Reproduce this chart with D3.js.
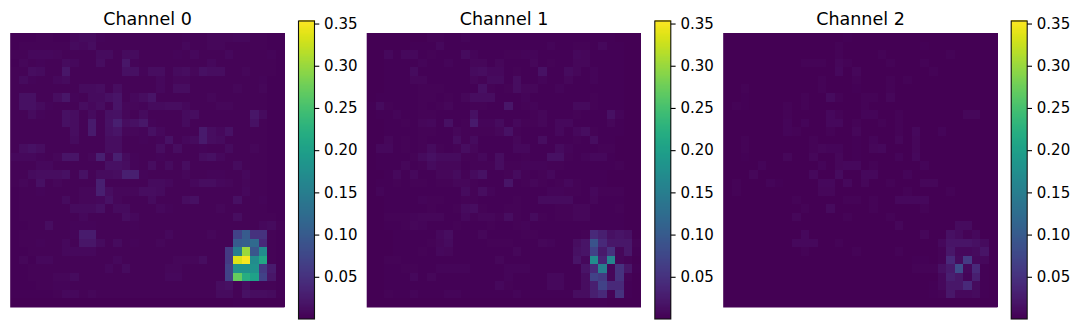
<!DOCTYPE html>
<html>
<head>
<meta charset="utf-8">
<script src="https://d3js.org/d3.v7.min.js"></script>
<style>
  html, body { margin: 0; padding: 0; background: #fff; }
  svg { display: block; }
  text { font-family: "DejaVu Sans", sans-serif; fill: #000; }
</style>
</head>
<body>
<div id="graph"></div>
<script>
// data: cell values, in thousandths
var channel0 = [
  [2,2,2,3,3,2,2,8, 10,10,5,4,3,3,4,3, 3,3,3,3,5,3,3,6, 6,6,8,8,4,3,2,2],
  [2,3,3,3,3,3,3,10, 8,12,4,4,4,3,3,3, 3,3,3,3,8,3,3,6, 6,4,4,4,3,3,2,2],
  [3,3,8,8,8,6,3,4, 4,4,10,10,4,10,10,4, 4,3,3,5,4,7,3,4, 4,8,4,3,3,3,5,2],
  [2,6,3,5,4,3,10,8, 4,4,12,4,3,20,5,3, 3,3,3,3,3,3,3,7, 4,3,3,3,3,3,3,2],
  [3,4,12,10,4,3,20,4, 3,3,4,4,4,14,14,5, 12,12,4,10,12,6,14,12, 12,4,3,6,3,3,4,2],
  [3,10,5,4,4,8,10,4, 4,4,4,4,3,4,4,4, 4,8,3,6,6,3,3,3, 3,3,3,3,3,5,2,2],
  [3,4,3,4,3,3,4,4, 10,10,12,4,12,4,3,4, 3,8,3,12,12,3,3,3, 3,3,6,3,3,6,2,2],
  [3,15,15,4,4,12,20,5, 4,10,10,15,18,3,8,12, 18,4,3,3,3,3,3,6, 3,3,4,4,3,3,2,2],
  [3,15,15,10,5,4,4,4, 12,8,12,4,18,6,6,5, 10,10,12,12,8,3,3,3, 6,6,3,3,3,3,2,2],
  [3,4,10,5,4,4,14,12, 4,10,4,15,16,6,4,10, 4,4,3,3,10,12,3,3, 3,3,3,3,20,10,2,2],
  [3,4,4,4,4,4,14,12, 4,24,4,16,30,12,14,22, 5,4,3,3,10,4,3,3, 3,3,3,3,16,3,2,2],
  [3,3,4,4,3,3,4,12, 4,24,4,14,18,6,6,5, 14,8,3,3,3,3,24,12, 8,16,3,3,3,3,2,2],
  [3,3,3,4,3,3,3,10, 4,4,3,12,12,4,3,5, 4,5,16,3,7,10,24,12, 10,4,3,3,3,3,2,2],
  [3,12,16,12,4,3,3,4, 4,4,4,12,12,4,4,4, 4,12,3,12,4,3,5,4, 4,10,3,3,6,3,2,2],
  [8,8,8,5,4,6,18,18, 4,6,30,6,30,10,5,3, 4,5,3,3,3,3,12,14, 8,4,3,3,3,3,2,2],
  [3,3,4,7,7,3,3,4, 4,4,4,14,14,12,5,3, 12,4,10,4,12,3,3,3, 3,3,10,3,3,3,2,2],
  [3,3,10,12,12,12,14,4, 16,4,10,10,12,30,30,5, 4,4,3,4,6,3,3,5, 5,3,3,8,3,3,2,2],
  [3,6,3,14,4,6,4,4, 3,4,30,4,4,4,4,4, 10,10,8,3,3,7,12,12, 8,6,3,6,3,3,2,2],
  [2,3,3,5,3,3,4,4, 6,6,30,12,6,6,6,12, 12,10,3,3,3,3,4,3, 3,3,3,8,3,3,2,2],
  [2,3,4,3,3,3,10,3, 6,6,7,16,6,3,4,3, 10,3,3,3,12,14,3,3, 3,3,14,3,3,5,2,2],
  [2,3,4,3,3,3,4,10, 10,10,14,4,10,10,4,4, 3,8,5,3,3,4,3,3, 6,3,3,3,3,3,2,2],
  [2,3,4,4,4,4,4,4, 8,4,4,3,3,12,8,4, 3,3,3,3,3,3,3,3, 3,3,12,3,3,3,4,2],
  [2,2,3,3,12,3,3,5, 5,5,3,3,3,3,5,4, 3,3,3,3,3,3,3,3, 3,3,4,3,3,8,10,3],
  [2,3,3,3,3,3,3,5, 26,26,3,3,3,3,4,4, 3,3,8,3,3,3,3,6, 3,3,70,100,50,50,3,2],
  [2,4,3,5,3,3,8,4, 20,20,10,3,10,3,5,3, 3,6,3,3,3,3,3,3, 3,3,100,105,120,40,3,2],
  [2,2,3,3,3,3,8,7, 8,8,3,3,3,3,3,3, 3,3,3,3,3,3,3,3, 4,60,150,300,95,170,4,2],
  [2,6,2,8,8,3,3,3, 3,3,3,3,7,4,4,3, 3,3,3,6,6,6,12,3, 3,60,335,350,170,210,4,2],
  [2,2,3,3,3,3,3,3, 3,3,3,8,3,10,3,3, 3,3,6,6,3,3,3,3, 3,70,180,180,180,60,25,2],
  [2,2,3,3,3,6,6,10, 3,3,3,3,3,3,3,4, 3,3,8,8,3,3,3,3, 3,70,270,220,200,70,20,2],
  [2,2,2,3,3,5,5,3, 3,3,3,3,3,3,3,3, 3,3,3,3,3,3,3,3, 12,14,4,12,3,3,3,2],
  [2,2,2,2,2,3,8,8, 3,6,3,3,3,3,3,3, 3,3,3,3,3,3,3,3, 10,10,4,16,12,12,10,2],
  [1,1,1,1,1,1,1,1, 1,1,1,1,1,1,1,1, 1,1,1,1,1,1,1,1, 1,1,2,2,1,1,1,1]
];

var channel1 = [
  [1,1,1,1,1,1,1,4, 4,2,2,5,2,2,2,2, 2,2,2,2,2,2,2,2, 2,2,2,2,2,1,1,1],
  [1,1,1,1,1,2,2,2, 7,2,2,2,2,2,2,2, 2,2,2,2,2,5,2,2, 4,4,2,8,2,2,1,1],
  [1,1,7,2,8,8,2,3, 2,2,2,10,5,2,2,2, 4,4,5,5,2,2,2,2, 7,6,2,2,2,2,1,1],
  [1,1,2,2,2,2,5,2, 2,5,2,2,6,6,2,6, 2,2,2,6,2,4,2,2, 6,6,2,2,2,2,1,1],
  [1,1,2,2,2,10,2,2, 2,2,2,2,10,12,8,8, 2,4,2,2,16,2,2,10, 6,2,5,2,2,2,1,1],
  [1,1,2,2,2,6,6,2, 2,2,2,2,6,4,10,10, 2,12,2,2,5,2,2,6, 2,2,5,2,2,2,1,1],
  [1,1,2,2,2,2,4,4, 3,2,2,2,2,14,3,2, 3,12,6,6,2,2,5,2, 2,2,2,2,2,2,1,1],
  [1,2,2,2,2,2,4,3, 2,3,2,6,12,12,12,2, 2,2,5,2,2,2,2,2, 2,2,4,2,2,2,1,1],
  [2,10,3,2,2,2,4,2, 3,6,2,2,3,4,2,2, 20,2,3,5,2,2,2,2, 9,9,4,2,2,2,1,1],
  [1,2,2,5,2,2,4,3, 2,2,2,2,14,2,2,2, 2,2,2,3,6,2,2,2, 3,2,2,2,14,5,1,1],
  [1,1,2,2,4,2,6,8, 2,14,2,3,24,5,5,10, 2,8,3,3,6,2,8,8, 2,2,2,2,6,2,1,1],
  [1,1,2,2,2,2,3,4, 2,2,6,3,4,3,3,6, 16,3,2,2,2,2,8,2, 8,12,4,2,2,2,1,1],
  [1,1,6,2,4,2,3,2, 2,2,12,3,10,2,2,2, 2,6,2,2,12,2,2,2, 4,2,12,2,2,1,1,1],
  [1,8,8,2,3,2,3,10, 3,2,3,12,6,2,2,2, 2,8,8,2,2,2,10,5, 2,2,2,4,4,1,1,1],
  [1,2,2,2,2,3,10,14, 10,10,10,3,4,8,2,12, 2,2,3,2,2,14,14,3, 2,5,7,7,2,1,1,1],
  [1,2,2,2,6,2,3,10, 6,6,6,2,3,4,3,12, 3,3,5,5,5,4,4,2, 2,2,2,2,2,4,1,1],
  [1,1,2,8,2,8,2,2, 6,6,10,3,10,16,2,2, 4,10,3,2,3,8,2,2, 2,2,2,2,1,1,1,1],
  [1,2,2,4,2,3,3,2, 3,3,6,6,3,2,2,2, 18,2,3,6,4,2,3,8, 4,2,2,2,1,1,1,1],
  [1,5,2,2,2,2,2,2, 2,2,2,10,3,12,5,2, 2,2,2,2,2,5,5,4, 3,2,8,3,3,3,1,1],
  [1,1,2,2,2,2,5,3, 3,2,2,3,3,2,2,2, 2,3,2,2,10,10,10,10, 2,2,6,2,2,2,1,1],
  [1,1,2,2,2,2,2,4, 2,2,4,10,12,3,2,2, 4,4,2,2,2,2,3,3, 6,6,2,2,2,3,1,1],
  [1,1,4,4,3,5,6,6, 6,2,2,8,3,6,6,3, 12,3,2,10,3,2,3,4, 6,6,2,2,2,2,1,1],
  [1,1,2,2,4,6,5,2, 2,2,4,2,2,2,3,2, 2,3,5,2,2,2,2,2, 2,2,2,2,2,2,1,1],
  [1,1,1,2,2,2,2,2, 8,12,2,2,2,6,2,2, 2,2,3,4,2,2,2,2, 2,3,40,30,14,18,14,1],
  [1,1,1,2,2,2,2,3, 6,10,2,2,2,2,3,3, 4,2,2,2,6,5,2,2, 12,18,90,40,22,22,22,4],
  [1,1,1,2,2,2,4,2, 8,6,2,2,2,2,2,2, 2,6,2,2,2,2,2,2, 14,18,70,24,50,6,22,2],
  [1,1,4,4,2,2,2,2, 2,2,2,2,2,2,2,6, 2,2,2,2,2,2,2,2, 18,8,170,35,160,6,4,1],
  [1,1,2,2,3,3,2,2, 5,5,5,5,2,2,2,2, 5,5,5,2,2,2,2,2, 2,18,40,150,6,50,20,2],
  [1,1,2,2,2,7,2,6, 2,2,2,2,2,2,2,2, 5,2,2,2,2,8,8,2, 2,12,70,60,6,50,3,1],
  [1,1,2,2,2,2,2,2, 2,2,2,2,2,2,2,7, 4,2,2,2,2,8,8,2, 2,12,30,70,40,40,2,1],
  [1,1,4,2,2,5,2,2, 2,5,5,2,2,2,2,2, 2,5,2,2,2,2,2,2, 12,12,30,40,4,50,2,1],
  [1,1,1,1,1,1,1,1, 1,1,1,1,1,1,1,1, 1,1,1,1,1,1,1,1, 1,1,2,2,1,1,1,1]
];

var channel2 = [
  [1,1,1,1,1,1,1,1, 1,1,1,1,1,1,2,1, 1,1,1,1,1,1,1,1, 1,1,1,1,1,1,1,1],
  [1,1,1,1,1,1,1,1, 1,1,1,1,1,3,1,1, 1,1,1,1,1,1,1,2, 1,1,1,1,1,1,1,1],
  [1,1,1,1,1,1,1,1, 1,1,1,1,1,3,1,1, 1,1,4,1,1,1,1,1, 1,1,3,1,1,1,1,1],
  [1,1,1,1,1,1,1,1, 1,4,4,3,1,6,4,1, 1,1,1,3,1,1,1,3, 1,1,1,1,1,1,1,1],
  [1,1,1,1,1,1,1,1, 1,1,1,1,1,8,1,6, 1,1,1,1,1,1,1,1, 3,1,1,1,1,1,1,1],
  [1,1,1,1,1,1,1,1, 1,1,1,3,1,1,1,3, 1,1,1,4,1,4,1,1, 1,1,1,1,1,1,1,1],
  [1,1,4,1,1,1,1,1, 1,1,1,3,1,1,1,2, 1,1,1,3,1,1,1,1, 1,1,1,1,1,1,1,1],
  [1,1,2,1,1,1,1,1, 1,4,1,1,10,4,1,1, 3,3,1,6,1,1,1,1, 1,1,1,1,1,1,1,1],
  [1,3,2,1,1,1,1,3, 1,3,1,1,1,1,1,1, 4,1,1,1,1,1,1,1, 1,1,1,1,1,1,1,1],
  [1,1,1,1,1,1,1,4, 1,1,1,1,7,4,1,1, 5,5,1,1,3,1,1,1, 1,1,1,1,6,6,1,1],
  [1,1,1,1,1,1,1,5, 1,5,1,1,8,8,1,4, 1,1,3,1,4,1,1,1, 1,1,1,1,1,1,1,1],
  [1,1,1,1,1,1,1,5, 3,1,1,1,4,1,1,6, 1,1,1,1,4,1,8,1, 1,5,1,1,1,1,1,1],
  [1,1,3,1,1,1,1,1, 1,1,4,1,1,1,1,2, 1,5,1,1,6,1,6,1, 1,1,1,1,1,1,1,1],
  [1,1,3,1,1,1,1,1, 1,1,4,6,5,5,1,2, 1,6,7,1,1,1,6,1, 1,1,1,1,1,1,1,1],
  [1,1,2,1,1,1,1,6, 1,1,6,1,1,6,1,2, 1,1,1,1,5,1,7,1, 1,1,1,1,1,1,1,1],
  [1,1,1,1,5,1,1,1, 1,1,1,5,1,6,7,7, 1,4,1,1,1,1,1,5, 1,1,1,1,1,1,1,1],
  [1,1,1,6,1,1,1,1, 1,1,8,1,1,10,1,1, 8,8,1,1,1,5,1,1, 1,1,1,1,1,1,1,1],
  [1,3,1,1,1,5,2,1, 1,1,1,8,8,1,8,1, 6,1,1,4,1,1,1,6, 6,1,1,1,1,1,1,1],
  [1,3,1,1,1,1,1,1, 1,1,1,6,6,1,1,1, 1,1,1,1,1,4,1,1, 1,1,4,1,1,1,1,1],
  [1,1,1,1,1,1,1,1, 3,1,1,1,1,1,4,4, 1,3,1,1,8,8,8,8, 1,1,1,1,1,1,1,1],
  [1,1,1,1,1,1,1,1, 1,3,1,1,9,1,1,1, 1,4,1,1,1,1,1,3, 1,1,1,1,1,1,1,1],
  [1,1,1,1,1,1,1,1, 6,1,1,1,1,1,3,1, 1,1,1,4,1,1,1,1, 1,1,1,1,1,1,1,1],
  [1,1,1,1,1,1,1,1, 1,1,1,1,1,1,1,1, 1,1,1,1,6,1,1,1, 1,1,1,10,10,1,1,1],
  [1,1,1,1,1,1,1,1, 1,8,1,1,1,1,1,1, 1,1,1,1,1,1,1,6, 1,1,14,10,3,8,1,1],
  [1,1,1,1,1,1,1,1, 8,8,8,1,1,4,1,1, 1,1,1,1,1,1,1,1, 1,7,18,18,18,14,10,1],
  [1,1,1,1,1,1,1,1, 1,4,1,1,1,1,1,3, 1,1,1,1,3,1,1,1, 1,4,22,7,7,10,18,1],
  [1,1,1,1,1,1,1,1, 1,1,1,1,1,1,1,1, 1,1,1,1,1,1,2,2, 1,3,40,10,60,7,7,1],
  [1,1,1,1,1,1,1,1, 1,1,1,1,1,1,1,1, 1,1,1,1,1,1,3,3, 3,14,24,80,7,40,2,1],
  [1,1,1,1,1,1,1,1, 1,1,1,1,1,1,1,1, 1,1,1,1,1,1,1,1, 1,7,30,22,5,30,2,1],
  [1,1,1,1,1,1,1,1, 1,1,1,1,1,1,1,1, 1,1,1,1,1,1,1,1, 2,7,22,22,40,10,2,1],
  [1,1,1,1,1,1,1,1, 1,1,1,1,1,1,1,1, 1,1,1,1,1,1,1,1, 2,3,22,7,7,10,2,1],
  [1,1,1,1,1,1,1,1, 1,1,1,1,1,1,1,1, 1,1,1,1,1,1,1,1, 1,1,1,1,1,1,1,1]
];

var titles = ["Channel 0", "Channel 1", "Channel 2"];
var channels = [channel0, channel1, channel2];
var tickValues = [0.05, 0.10, 0.15, 0.20, 0.25, 0.30, 0.35];
var domainMax = 0.353;

var svg = d3.select("#graph")
            .append("svg")
            .attr("width", 1080).attr("height", 330);

var color = d3.scaleSequential(d3.interpolateViridis).domain([0, domainMax]);
var panelLeft = [10.5, 367, 723.5];
var cbLeft = [298.5, 654.8, 1011.2];
var size = 274;
var cbWidth = 16;

var indices = d3.range(32);
var band = d3.scaleBand().domain(indices).range([0, size]);
var cbY = d3.scaleLinear().domain([0, domainMax]).range([319, 21]);
var cbSteps = d3.range(0, 256).map(function(i) { return domainMax * i / 255; });

channels.forEach(function(data, p) {
  var g = svg.append("g").attr("transform", "translate(" + panelLeft[p] + ",33)");

  // soft backing, gives the pale partial-pixel edge around the image
  g.append("rect")
   .attr("x", -0.3).attr("y", 0)
   .attr("width", size + 0.3).attr("height", size + 0.5)
   .attr("fill", color(0.001));

  var cells = [];
  data.forEach(function(row, r) {
    row.forEach(function(v, c) { cells.push({r: r, c: c, v: v / 1000}); });
  });

  g.selectAll("rect.cell")
   .data(cells)
   .enter()
   .append("rect")
   .attr("class", "cell")
   .attr("x", function(d) { return band(d.c); })
   .attr("y", function(d) { return band(d.r); })
   .attr("width", band.bandwidth())
   .attr("height", band.bandwidth())
   .attr("shape-rendering", "crispEdges")
   .attr("fill", function(d) { return color(d.v); });

  svg.append("text")
     .attr("x", panelLeft[p] + size / 2)
     .attr("y", 24.5)
     .attr("text-anchor", "middle")
     .style("font-size", "17.5px")
     .text(titles[p]);

  // colorbar
  var cb = svg.append("g").attr("transform", "translate(" + cbLeft[p] + ",0)");
  cb.selectAll("rect")
    .data(cbSteps)
    .enter()
    .append("rect")
    .attr("x", 0)
    .attr("width", cbWidth)
    .attr("y", function(d) { return cbY(d) - 298 / 255; })
    .attr("height", 298 / 255)
    .attr("shape-rendering", "crispEdges")
    .attr("fill", function(d) { return color(d); });

  cb.append("rect")
    .attr("x", 0).attr("y", 21)
    .attr("width", cbWidth).attr("height", 298)
    .attr("fill", "none")
    .attr("stroke", "#111")
    .attr("stroke-width", 1.1);

  var axis = d3.axisRight(cbY)
               .tickValues(tickValues)
               .tickSize(4.8)
               .tickPadding(4.8)
               .tickFormat(d3.format(".2f"));

  var ax = cb.append("g").attr("transform", "translate(" + cbWidth + ",0)").call(axis);
  ax.select(".domain").remove();
  ax.selectAll("line").attr("stroke", "#000").attr("stroke-width", 1.1);
  ax.selectAll("text").style("font-size", "15px").style("font-family", '"DejaVu Sans", sans-serif');
});
</script>
</body>
</html>
